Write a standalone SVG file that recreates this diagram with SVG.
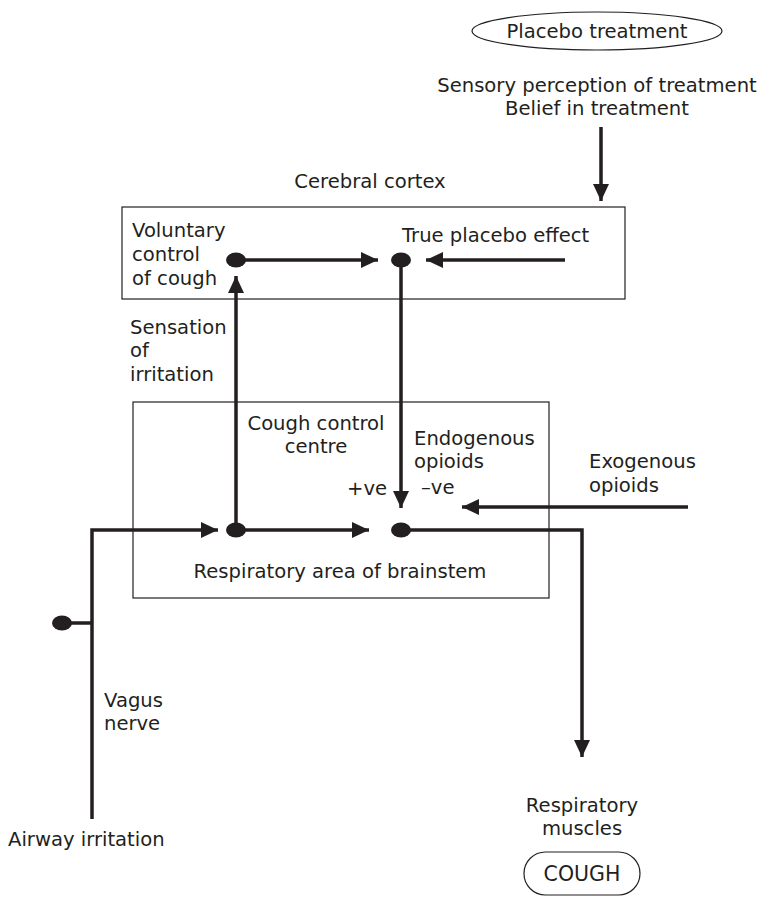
<svg xmlns="http://www.w3.org/2000/svg" width="761" height="907" viewBox="0 0 761 907">
<defs>
<style>
text{font-family:"DejaVu Sans","Open Sans",sans-serif;font-size:19.6px;fill:#231f20}
.box{fill:none;stroke:#231f20;stroke-width:1.2}
.ln{fill:none;stroke:#231f20;stroke-width:3.5}
.dot{fill:#231f20}
.m{text-anchor:middle}
</style>
<marker id="ah" markerWidth="17" markerHeight="16" viewBox="0 0 17 16" refX="17" refY="8" orient="auto" markerUnits="userSpaceOnUse">
<path d="M0,0 L17,8 L0,16 Z" fill="#231f20"/>
</marker>
</defs>
<rect width="761" height="907" fill="#fff"/>
<g id="placebo"><ellipse class="box" cx="597" cy="31" rx="125" ry="19"/><text class="m" x="597" y="38">Placebo treatment</text></g>
<g id="sensory"><text class="m" x="597" y="92">Sensory perception of treatment</text><text class="m" x="597" y="115">Belief in treatment</text></g>
<g id="cortex-label"><text class="m" x="370" y="188">Cerebral cortex</text></g>
<g id="cortex"><rect class="box" x="122" y="207" width="503" height="92"/></g>
<g id="voluntary"><text x="132" y="237">Voluntary</text><text x="132" y="261">control</text><text x="132" y="285">of cough</text><ellipse class="dot" cx="236" cy="260" rx="10" ry="7.5"/></g>
<g id="true-placebo"><text x="402" y="242">True placebo effect</text><ellipse class="dot" cx="401" cy="260" rx="10" ry="7.5"/></g>
<g id="sensation"><text x="130" y="334">Sensation</text><text x="130" y="357">of</text><text x="130" y="381">irritation</text></g>
<g id="brainstem"><rect class="box" x="133" y="402" width="416" height="196"/><text class="m" x="340" y="578">Respiratory area of brainstem</text></g>
<g id="cough-centre"><text class="m" x="316" y="430">Cough control</text><text class="m" x="316" y="453">centre</text><ellipse class="dot" cx="236" cy="530" rx="10" ry="7.5"/></g>
<g id="endogenous"><text x="414" y="445">Endogenous</text><text x="414" y="468">opioids</text><text x="347" y="495">+ve</text><text x="421" y="494">–ve</text><ellipse class="dot" cx="401" cy="530" rx="10" ry="7.5"/></g>
<g id="exogenous"><text x="589" y="468">Exogenous</text><text x="589" y="492">opioids</text></g>
<g id="vagus"><text x="104" y="707">Vagus</text><text x="104" y="730">nerve</text><ellipse class="dot" cx="62" cy="623" rx="10" ry="7.5"/></g>
<g id="airway"><text x="8" y="846">Airway irritation</text></g>
<g id="muscles"><text class="m" x="582" y="812">Respiratory</text><text class="m" x="582" y="835">muscles</text></g>
<g id="cough"><rect class="box" x="524" y="852" width="116" height="43" rx="21.5"/><text class="m" x="582" y="881" style="font-size:20.5px">COUGH</text></g>
<g id="connectors">
<path class="ln" d="M601,127 V201" marker-end="url(#ah)"/>
<path class="ln" d="M236,260 H378" marker-end="url(#ah)"/>
<path class="ln" d="M565,260 H426" marker-end="url(#ah)"/>
<path class="ln" d="M401,260 V508" marker-end="url(#ah)"/>
<path class="ln" d="M236,530 V276" marker-end="url(#ah)"/>
<path class="ln" d="M92,819 V530 H218" marker-end="url(#ah)"/>
<path class="ln" d="M236,530 H369" marker-end="url(#ah)"/>
<path class="ln" d="M688,507 H462" marker-end="url(#ah)"/>
<path class="ln" d="M401,530 H582 V757" marker-end="url(#ah)"/>
<path class="ln" d="M62,623 H92"/>
</g>
</svg>
